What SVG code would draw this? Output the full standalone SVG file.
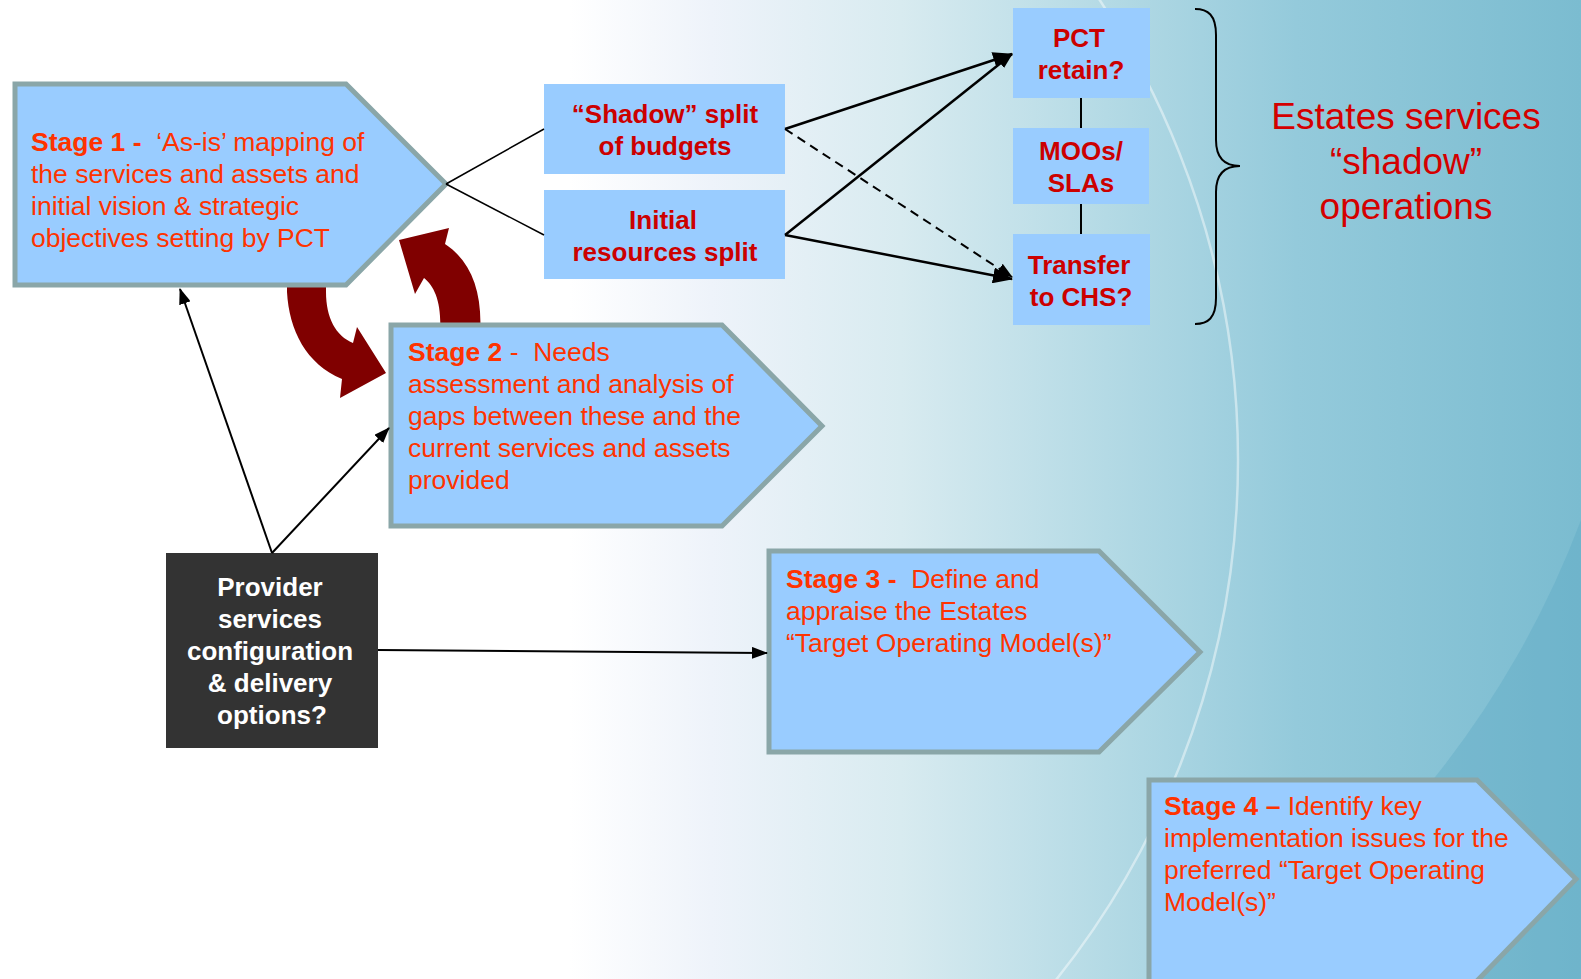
<svg xmlns="http://www.w3.org/2000/svg" width="1581" height="979" viewBox="0 0 1581 979">
<defs>
<linearGradient id="bg" x1="0" y1="0" x2="1581" y2="0" gradientUnits="userSpaceOnUse">
<stop offset="0" stop-color="#ffffff"/>
<stop offset="0.36" stop-color="#ffffff"/>
<stop offset="0.45" stop-color="#eef3fa"/>
<stop offset="0.57" stop-color="#d8ebf0"/>
<stop offset="0.70" stop-color="#b4dae5"/>
<stop offset="0.82" stop-color="#94cadb"/>
<stop offset="1" stop-color="#7bbcd0"/>
</linearGradient>
<marker id="ah" markerWidth="16" markerHeight="12" refX="15" refY="6" orient="auto" markerUnits="userSpaceOnUse">
<path d="M0,0 L16,6 L0,12 Z" fill="#000"/>
</marker>
<marker id="ahL" markerWidth="20" markerHeight="16" refX="19" refY="8" orient="auto" markerUnits="userSpaceOnUse">
<path d="M0,0 L20,8 L0,16 Z" fill="#000"/>
</marker>
<style>
.stage{fill:#99ccff;stroke:#8aa6a8;stroke-width:5}
.box{fill:#99ccff}
.st{font-family:"Liberation Sans",Arial,sans-serif;font-size:26.5px;fill:#ff3300;white-space:pre}
.b{font-weight:bold}
.bt{font-family:"Liberation Sans",Arial,sans-serif;font-size:26px;font-weight:bold;fill:#cc0000;text-anchor:middle}
.wt{font-family:"Liberation Sans",Arial,sans-serif;font-size:26px;font-weight:bold;fill:#ffffff;text-anchor:middle}
.big{font-family:"Liberation Sans",Arial,sans-serif;font-size:37px;fill:#d40000;text-anchor:middle}
.ln{stroke:#000;fill:none}
</style>
</defs>
<g id="background">
<rect x="0" y="0" width="1581" height="979" fill="url(#bg)"/>
<path d="M1581,520 A950,950 0 0 1 1214,979 L1581,979 Z" fill="#5aa7c2" opacity="0.35"/>
<circle cx="405" cy="460" r="833" fill="none" stroke="#ffffff" stroke-opacity="0.45" stroke-width="2.5"/>
</g>
<g id="cycle-arrows" fill="#800000">
<path d="M287,270 L287,292 C289,330 306,364 342,379 L340,398 L386,373 L357,327 L353,343 C336,336 326,318 326,292 L326,270 Z"/>
<path d="M480,335 C483,292 471,261 445,244 L449,228 L399,240 L415,294 L424,278 C435,287 442,303 440,335 Z"/>
</g>
<g id="stage1">
<polygon class="stage" points="15,84 346,84 446,184 346,285 15,285"/>
<text class="st" x="31" y="151" xml:space="preserve"><tspan class="b">Stage 1 - </tspan> ‘As-is’ mapping of</text>
<text class="st" x="31" y="183">the services and assets and</text>
<text class="st" x="31" y="215">initial vision &amp; strategic</text>
<text class="st" x="31" y="247">objectives setting by PCT</text>
</g>
<g id="stage2">
<polygon class="stage" points="391,325 722,325 822,426 722,526 391,526"/>
<text class="st" x="408" y="361" xml:space="preserve"><tspan class="b">Stage 2</tspan> -  Needs</text>
<text class="st" x="408" y="393">assessment and analysis of</text>
<text class="st" x="408" y="425">gaps between these and the</text>
<text class="st" x="408" y="457">current services and assets</text>
<text class="st" x="408" y="489">provided</text>
</g>
<g id="stage3">
<polygon class="stage" points="769,551 1099,551 1200,652 1099,752 769,752"/>
<text class="st" x="786" y="588" xml:space="preserve"><tspan class="b">Stage 3 - </tspan> Define and</text>
<text class="st" x="786" y="620">appraise the Estates</text>
<text class="st" x="786" y="652">“Target Operating Model(s)”</text>
</g>
<g id="stage4">
<polygon class="stage" points="1149,780 1477,780 1576,879 1473,985 1149,985"/>
<text class="st" x="1164" y="815" xml:space="preserve"><tspan class="b">Stage 4 –</tspan> Identify key</text>
<text class="st" x="1164" y="847">implementation issues for the</text>
<text class="st" x="1164" y="879">preferred “Target Operating</text>
<text class="st" x="1164" y="911">Model(s)”</text>
</g>
<g id="shadow-split">
<rect class="box" x="544" y="84" width="241" height="90"/>
<text class="bt" x="665" y="123">“Shadow” split</text>
<text class="bt" x="665" y="155">of budgets</text>
</g>
<g id="initial-split">
<rect class="box" x="544" y="190" width="241" height="89"/>
<text class="bt" x="663" y="229">Initial</text>
<text class="bt" x="665" y="261">resources split</text>
</g>
<g id="pct-retain">
<rect class="box" x="1013" y="8" width="137" height="90"/>
<text class="bt" x="1079" y="47">PCT</text>
<text class="bt" x="1081" y="79">retain?</text>
</g>
<g id="moos-slas">
<rect class="box" x="1013" y="128" width="136" height="76"/>
<text class="bt" x="1081" y="160">MOOs/</text>
<text class="bt" x="1081" y="192">SLAs</text>
</g>
<g id="transfer-chs">
<rect class="box" x="1013" y="234" width="137" height="91"/>
<text class="bt" x="1079" y="274">Transfer</text>
<text class="bt" x="1081" y="306">to CHS?</text>
</g>
<g id="provider">
<rect x="166" y="553" width="212" height="195" fill="#333333"/>
<text class="wt" x="270" y="596">Provider</text>
<text class="wt" x="270" y="628">services</text>
<text class="wt" x="270" y="660">configuration</text>
<text class="wt" x="270" y="692">&amp; delivery</text>
<text class="wt" x="272" y="724">options?</text>
</g>
<g id="estates-label">
<path class="ln" stroke-width="2" d="M1195,9 C1208,9 1216,15 1216,35 L1216,140 C1216,158 1225,166 1240,166 C1225,166 1216,174 1216,192 L1216,298 C1216,318 1208,324 1195,324"/>
<text class="big" x="1406" y="129">Estates services</text>
<text class="big" x="1406" y="174">“shadow”</text>
<text class="big" x="1406" y="219">operations</text>
</g>
<g id="connectors">
<line class="ln" stroke-width="1.5" x1="446" y1="184" x2="544" y2="129"/>
<line class="ln" stroke-width="1.5" x1="446" y1="184" x2="544" y2="235"/>
<line class="ln" stroke-width="2.5" x1="785" y1="129" x2="1012" y2="54" marker-end="url(#ahL)"/>
<line class="ln" stroke-width="2" stroke-dasharray="9,6" x1="785" y1="129" x2="1012" y2="277" marker-end="url(#ah)"/>
<line class="ln" stroke-width="2.5" x1="785" y1="235" x2="1012" y2="54" marker-end="url(#ah)"/>
<line class="ln" stroke-width="2.5" x1="785" y1="235" x2="1012" y2="279" marker-end="url(#ahL)"/>
<line class="ln" stroke-width="2" x1="1081" y1="98" x2="1081" y2="128"/>
<line class="ln" stroke-width="2" x1="1081" y1="204" x2="1081" y2="234"/>
<line class="ln" stroke-width="2" x1="272" y1="553" x2="180" y2="289" marker-end="url(#ah)"/>
<line class="ln" stroke-width="2" x1="272" y1="553" x2="389" y2="428" marker-end="url(#ah)"/>
<line class="ln" stroke-width="2" x1="378" y1="650" x2="767" y2="653" marker-end="url(#ah)"/>
</g>
</svg>
